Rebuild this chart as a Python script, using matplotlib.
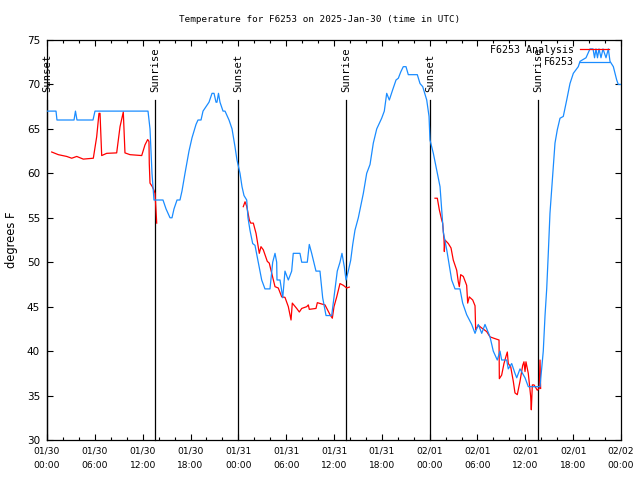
import numpy as np
import matplotlib
matplotlib.use("Agg")
import matplotlib.pyplot as plt
from matplotlib.ticker import MultipleLocator

nan = np.nan

# Observed F6253 (hours since 2025-01-30 00:00 UTC, degrees F)
obs_hours = [0.0, 1.13, 1.25, 3.39, 3.57, 3.76, 5.77, 6.02, 12.67, 12.92, 13.17, 13.42, 14.55, 14.93,
             15.43, 15.68, 15.93, 16.31, 16.68, 16.93, 17.31, 17.81, 18.19, 18.69, 18.94, 19.32, 19.57,
             19.94, 20.32, 20.70, 20.95, 21.20, 21.32, 21.51, 21.70, 22.08, 22.33, 22.83, 23.21, 23.58,
             23.83, 24.21, 24.46, 24.71, 25.05, 25.21, 25.46, 25.80, 26.09, 26.50, 26.93, 27.34, 27.97,
             28.31, 28.60, 28.81, 28.85, 29.23, 29.57, 29.85, 30.27, 30.69, 30.89, 31.73, 31.95, 32.65,
             32.90, 33.20, 33.74, 34.24, 34.58, 35.00, 35.71, 36.13, 36.41, 36.75, 37.00, 37.29, 37.51,
             37.79, 38.09, 38.35, 38.63, 39.05, 39.68, 40.10, 40.52, 40.93, 41.36, 41.98, 42.31, 42.61,
             42.94, 43.36, 43.78, 44.07, 44.37, 44.69, 45.03, 45.32, 46.45, 46.79, 47.13, 47.63, 47.92,
             48.04, 48.46, 48.88, 49.30, 49.51, 49.71, 50.14, 50.55, 50.76, 51.18, 51.80, 52.14, 52.64,
             53.27, 53.69, 54.10, 54.53, 54.94, 55.57, 55.98, 56.48, 56.82, 57.03, 57.66, 57.86, 58.29,
             58.70, 58.92, 59.33, 59.96, 60.37, 61.84, 62.05, 62.25, 62.47, 62.68, 62.88, 63.09, 63.51,
             63.72, 64.01, 64.35, 64.76, 65.19, 65.60, 66.02, 66.64, 66.86, 67.61, 68.11, 68.49, 68.68,
             68.86, 69.05, 69.24, 69.49, 69.74, 70.12, 70.41, 70.62, 71.04, 71.46, 71.66, 72.0]
obs_temps = [67, 67, 66, 66, 67, 66, 66, 67, 67, 65, 60, 57, 57, 56,
             55, 55, 56, 57, 57, 58, 60, 62.5, 64, 65.5, 66, 66, 67,
             67.5, 68, 69, 69, 68, 68, 69, 68, 67, 67, 66, 65, 63,
             61.5, 60, 58.5, 57.5, 57, 55, 53.6, 52.1, 51.9, 50, 48, 47, 47,
             50, 51, 50, 48, 48, 46, 49, 48, 49, 51, 51, 50, 50,
             52, 51, 49, 49, 46, 44, 44, 47, 49, 50, 51, 49.5, 48,
             49, 50.2, 52, 53.6, 55, 57.75, 60, 61, 63.4, 65, 66.2, 67, 69,
             68.25, 69.4, 70.5, 70.7, 71.4, 72, 72, 71.1, 71.1, 70.1, 69.75, 68.25, 66.4,
             63.75, 62.25, 60.4, 58.5, 55.9, 53.4, 51.4, 49.1, 48, 47, 47, 45.4, 44.1,
             43, 42, 43, 42, 43, 41.6, 40, 39, 40, 39, 39, 38, 38.6,
             37.5, 37, 38, 37, 36, 36, 38, 40, 44, 47, 51, 55.5, 60.75,
             63.4, 64.9, 66.2, 66.4, 68.25, 70.1, 71.25, 72, 72.6, 73, 74, 74, 73,
             74, 73, 74, 73, 74, 73, 74, 72.6, 72, 70.5, 70, 70]

# Analysis F6253 (NaN = gap)
ana_hours = [0.59, 1.42, 2.47, 3.10, 3.73, 4.55, 5.81, 6.23, 6.52, 6.65, 6.86, 7.49, 8.74, 9.16, 9.57,
             9.78, 10.41, 11.88, 12.29, 12.63, 12.79, 12.83, 12.92, 13.21, 13.42, 13.55, 13.67, 13.76,
             nan,
             24.62, 24.84, 25.05, 25.38, 25.55, 25.88, 26.22, 26.63, 26.84, 27.13, 27.63, 27.88, 28.19,
             28.60, 29.01, 29.44, 29.85, 30.27, 30.61, 30.77, 31.32, 31.65, 31.95, 32.58, 32.78, 32.90,
             33.74, 33.91, 34.46, 34.87, 35.50, 35.79, 36.00, 36.34, 36.75, 37.17, 37.59, 37.92,
             nan,
             48.67, 48.96, 49.21, 49.51, 49.63, 49.80, 49.84, 49.92, 50.34, 50.68, 50.96, 51.39, 51.59,
             51.72, 51.89, 52.22, 52.64, 52.77, 52.97, 53.40, 53.69, 53.77, 54.10, 54.53, 55.15, 55.57,
             56.20, 56.70, 56.74, 57.03, 57.32, 57.57, 57.74, 57.86, 58.16, 58.49, 58.70, 58.99, 59.33,
             59.67, 59.83, 59.96, 60.08, 60.37, 60.67, 60.75, 60.88, 61.09, 61.50, 61.75, 61.84, 61.92]
ana_temps = [62.4, 62.1, 61.9, 61.7, 61.9, 61.6, 61.7, 64.1, 66.75, 66.75, 62.0, 62.25, 62.3, 65.25, 66.9,
             62.3, 62.1, 62.0, 63.2, 63.8, 63.6, 61.1, 58.9, 58.5, 58.1, 57.75, 55.9, 54.4,
             nan,
             56.25, 56.8, 56.3, 54.75, 54.4, 54.4, 53.25, 51, 51.75, 51.4, 50.1, 49.9, 48.75,
             47.25, 47.1, 46.1, 46.05, 45, 43.5, 45.4, 44.8, 44.4, 44.8, 45, 45.2, 44.7,
             44.8, 45.45, 45.3, 45.2, 44.1, 43.7, 45, 46.1, 47.6, 47.4, 47.1, 47.2,
             nan,
             57.2, 57.2, 55.9, 54.75, 54.4, 52.5, 51.2, 52.5, 52.1, 51.6, 50.25, 49.1, 47.8,
             47.25, 48.6, 48.4, 47.4, 45.4, 46.1, 45.75, 45.1, 42.4, 42.9, 42.6, 42.2, 41.6,
             41.4, 41.25, 36.9, 37.3, 38.6, 39.4, 39.9, 38.6, 38.25, 36.6, 35.3, 35.1, 36.6,
             38.4, 38.8, 37.7, 38.8, 37.5, 34.9, 33.4, 36.2, 36.2, 35.6, 35.8, 39, 35.8]

sun_hours = [0.0, 13.55, 23.96, 37.5, 48.04, 61.6]
sun_labels = ["Sunset", "Sunrise", "Sunset", "Sunrise", "Sunset", "Sunrise"]

tick_hours = [0, 6, 12, 18, 24, 30, 36, 42, 48, 54, 60, 66, 72]
tick_labels = ["01/30\n00:00", "01/30\n06:00", "01/30\n12:00", "01/30\n18:00",
               "01/31\n00:00", "01/31\n06:00", "01/31\n12:00", "01/31\n18:00",
               "02/01\n00:00", "02/01\n06:00", "02/01\n12:00", "02/01\n18:00",
               "02/02\n00:00"]

plt.rcParams['font.family'] = ['DejaVu Sans']
mono = 'DejaVu Sans Mono'

fig = plt.figure(figsize=(6.4, 4.8), dpi=100)
ax = fig.add_axes([47/640, 40/480, (621-47)/640, 400/480])

ax.plot(ana_hours, ana_temps, color='#ff0000', lw=0.9, label='F6253 Analysis', zorder=3)
ax.plot(obs_hours, obs_temps, color='#1a8cff', lw=0.9, label='F6253', zorder=4)

for h, lab in zip(sun_hours, sun_labels):
    ax.plot([h, h], [30, 68.3], color='black', lw=0.9, zorder=2, clip_on=False)
    ax.text(h, 69.2, lab, rotation=90, ha='center', va='bottom', fontsize=7.6, family=mono)

ax.set_xlim(0, 72)
ax.set_ylim(30, 75)
ax.set_xticks(tick_hours)
ax.set_xticklabels(tick_labels, fontsize=6.6, linespacing=1.75)
ax.xaxis.set_minor_locator(MultipleLocator(2))
ax.set_yticks(np.arange(30, 76, 5))
ax.tick_params(axis='both', which='both', direction='in', top=True, right=True)
ax.tick_params(axis='y', labelsize=7.5)
ax.tick_params(which='major', length=4, width=0.8, pad=5)
ax.tick_params(which='minor', length=2, width=0.8)
for s in ax.spines.values():
    s.set_linewidth(0.9)

ax.set_ylabel('degrees F', fontsize=8.3, labelpad=6)
fig.text(0.5, 1 - 19/480, 'Temperature for F6253 on 2025-Jan-30 (time in UTC)', fontsize=6.7,
         family=mono, ha='center', va='center')

ax.legend(loc='upper right', bbox_to_anchor=(0.986, 0.998), frameon=False,
          prop={'family': mono, 'size': 7.2},
          markerfirst=False, handlelength=2.9, handletextpad=0.6, labelspacing=0.25,
          borderaxespad=0.0)

fig.savefig('out.png', dpi=100)
